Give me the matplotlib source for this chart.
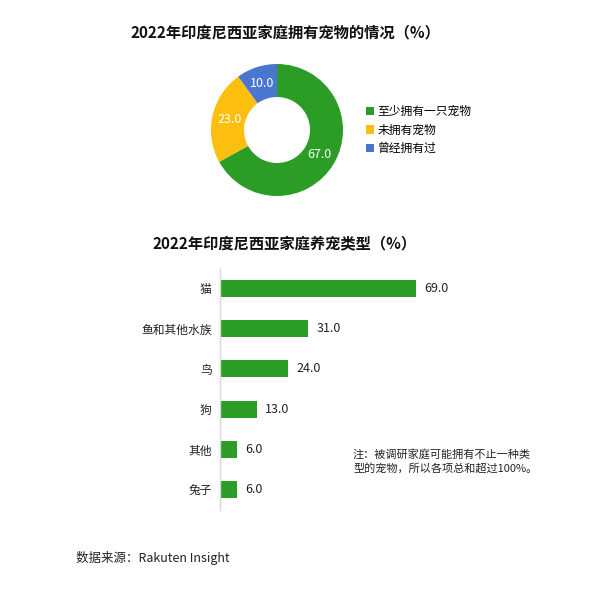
import matplotlib
matplotlib.use("Agg")
import matplotlib.pyplot as plt
from matplotlib.patches import Patch

plt.rcParams['font.family'] = ['Noto Sans CJK SC', 'DejaVu Sans']

# Data
pie_labels = ["至少拥有一只宠物", "未拥有宠物", "曾经拥有过"]
pie_values = [67.0, 23.0, 10.0]
pie_colors = ["#2b9c26", "#fcbf10", "#4a76cf"]

bar_cats = ["猫", "鱼和其他水族", "鸟", "狗", "其他", "兔子"]
bar_values = [69.0, 31.0, 24.0, 13.0, 6.0, 6.0]
bar_color = "#2b9c26"

title1 = "2022年印度尼西亚家庭拥有宠物的情况（%）"
title2 = "2022年印度尼西亚家庭养宠类型（%）"
note = "注：被调研家庭可能拥有不止一种类\n型的宠物，所以各项总和超过100%。"
source = "数据来源：Rakuten Insight"

W, H = 600, 606
fig = plt.figure(figsize=(W / 100, H / 100), dpi=100)
fig.patch.set_facecolor("white")

def fx(px):
    return px / W

def fy(py):
    return 1 - py / H

# Titles
fig.text(fx(285), fy(32), title1, ha="center", va="center", fontsize=11, fontweight="bold", color="#111111")
fig.text(fx(285), fy(243), title2, ha="center", va="center", fontsize=11, fontweight="bold", color="#111111")

# Donut
cx, cy, r = 277, 130, 66
ax_pie = fig.add_axes([fx(cx - r), fy(cy + r), 2 * r / W, 2 * r / H])
wedges, _, autotexts = ax_pie.pie(
    pie_values, colors=pie_colors, startangle=90, counterclock=False,
    radius=1.0, wedgeprops=dict(width=0.5, edgecolor="none"),
    autopct=lambda p: f"{p:.1f}", pctdistance=0.74,
    textprops=dict(color="white", fontsize=9))
ax_pie.set_aspect("equal")
ax_pie.set_xlim(-1, 1)
ax_pie.set_ylim(-1, 1)
ax_pie.axis("off")

handles = [Patch(facecolor=c, edgecolor="none") for c in pie_colors]
fig.legend(handles, pie_labels, loc="center left", bbox_to_anchor=(fx(366), fy(130)),
           frameon=False, fontsize=8.5, handlelength=0.7, handleheight=0.7,
           handletextpad=0.3, labelspacing=0.45, borderaxespad=0, borderpad=0)

# Bars
top, bottom = 268, 510
ax_bar = fig.add_axes([fx(220), fy(bottom), 284 / W, (bottom - top) / H])
ypos = list(range(len(bar_cats)))
bars = ax_bar.barh(ypos, bar_values, height=0.42, color=bar_color)
ax_bar.set_ylim(len(bar_cats) - 0.5, -0.5)
ax_bar.set_xlim(0, 100)
ax_bar.set_yticks(ypos)
ax_bar.set_yticklabels(bar_cats, fontsize=8.5, color="#222222")
ax_bar.tick_params(axis="y", length=0, pad=6)
ax_bar.set_xticks([])
for s in ["top", "right", "bottom"]:
    ax_bar.spines[s].set_visible(False)
ax_bar.spines["left"].set_color("#d9d9d9")
ax_bar.spines["left"].set_linewidth(1)
ax_bar.set_facecolor("none")
ax_bar.bar_label(bars, labels=[f"{v:.1f}" for v in bar_values], padding=6, fontsize=9, color="#222222")

fig.text(fx(353), fy(461), note, ha="left", va="center", fontsize=8, color="#222222", linespacing=1.35)
fig.text(fx(76), fy(558), source, ha="left", va="center", fontsize=9, color="#222222")

fig.savefig("out.png", dpi=100, facecolor="white")
